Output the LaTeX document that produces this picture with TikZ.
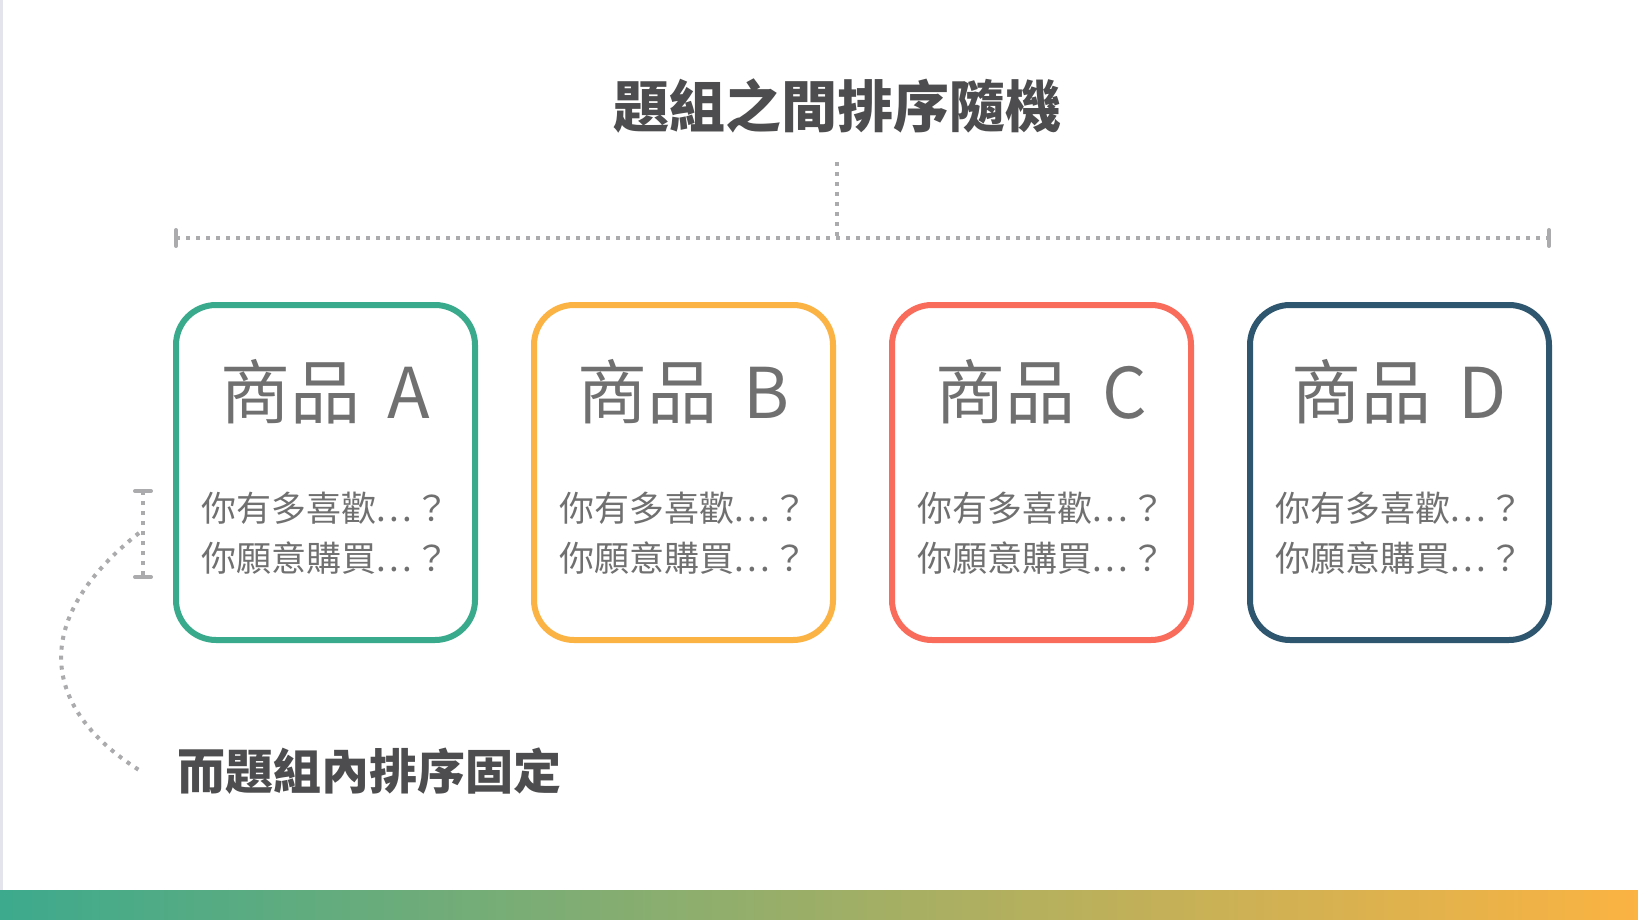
\documentclass[tikz,border=0pt]{standalone}
\usepackage{fontspec}
\newfontfamily\cjkfont{Noto Sans CJK TC}
\usetikzlibrary{positioning}

\definecolor{itemgreen}{HTML}{3AAA8C}
\definecolor{itemorange}{HTML}{FBB344}
\definecolor{itemred}{HTML}{F96B5A}
\definecolor{itemblue}{HTML}{2E566E}
\definecolor{headgray}{HTML}{4D4D4F}
\definecolor{textgray}{HTML}{707070}
\definecolor{dotgray}{HTML}{ABABAD}
\definecolor{edgegray}{HTML}{E4E4EC}
\definecolor{barleft}{HTML}{3DAA8D}
\definecolor{barright}{HTML}{FBB342}

\newcommand{\itemdots}{.\kern3pt.\kern3pt.\kern2pt}

\begin{document}
\begin{tikzpicture}[x=1pt, y=-1pt,
    itembox/.style={draw=#1, line width=6pt, rounded corners=40pt, minimum width=299pt, minimum height=335pt, inner sep=0pt, outer sep=0pt},
    itemname/.style={text=textgray, font=\cjkfont\fontsize{70}{84}\selectfont, anchor=base},
    question/.style={text=textgray, font=\cjkfont\fontsize{35}{50}\selectfont, anchor=base},
    heading/.style={text=headgray, font=\cjkfont\bfseries\fontsize{#1}{#1}\selectfont, inner sep=0pt},
    dotline/.style={draw=dotgray, line width=4pt, dash pattern=on 4pt off 6pt},
    capline/.style={draw=dotgray, line width=4pt, line cap=round},
    node distance=59pt,
  ]
  % page
  \useasboundingbox (0,0) rectangle (1638,920);
  \fill[white] (0,0) rectangle (1638,920);
  \fill[edgegray] (0,0) rectangle (2.5,890);
  \shade[left color=barleft, right color=barright] (0,890) rectangle (1638,920);

  % the four items
  \node[itembox=itemgreen]   (boxA) at (325.5,472.5) {};
  \node[itembox=itemorange]  (boxB) [right=of boxA] {};
  \node[itembox=itemred]     (boxC) [right=of boxB] {};
  \node[itembox=itemblue]    (boxD) [right=of boxC] {};

  \node[itemname] (nameA) at ([yshift=54.5pt]boxA.center) {商品\hspace{27pt}A};
  \node[itemname] (nameB) at ([yshift=54.5pt]boxB.center) {商品\hspace{27pt}B};
  \node[itemname] (nameC) at ([yshift=54.5pt]boxC.center) {商品\hspace{27pt}C};
  \node[itemname] (nameD) at ([yshift=54.5pt]boxD.center) {商品\hspace{27pt}D};

  \node[question] (likeA) at ([yshift=-48.5pt]boxA.center) {你有多喜歡\itemdots？};
  \node[question] (buyA)  at ([yshift=-98.5pt]boxA.center) {你願意購買\itemdots？};
  \node[question] (likeB) at ([yshift=-48.5pt]boxB.center) {你有多喜歡\itemdots？};
  \node[question] (buyB)  at ([yshift=-98.5pt]boxB.center) {你願意購買\itemdots？};
  \node[question] (likeC) at ([yshift=-48.5pt]boxC.center) {你有多喜歡\itemdots？};
  \node[question] (buyC)  at ([yshift=-98.5pt]boxC.center) {你願意購買\itemdots？};
  \node[question] (likeD) at ([yshift=-48.5pt]boxD.center) {你有多喜歡\itemdots？};
  \node[question] (buyD)  at ([yshift=-98.5pt]boxD.center) {你願意購買\itemdots？};

  % random order between groups
  \node[heading=56] (title) at (837,128) [anchor=base] {題組之間排序隨機};
  \coordinate (splitT) at (837,162);
  \coordinate (splitC) at (837,238);
  \coordinate (spanL) at (boxA.west |- splitC);
  \coordinate (spanR) at (boxD.east |- splitC);
  \draw[dotline] (splitT) -- (splitC);
  \draw[dotline] (spanL) -- (spanR);
  \draw[capline] ([yshift=8pt]spanL) -- ([yshift=-8pt]spanL);
  \draw[capline] ([yshift=8pt]spanR) -- ([yshift=-8pt]spanR);

  % fixed order inside a group
  \node[heading=48] (note) at (177,789) [anchor=base west] {而題組內排序固定};
  \coordinate (brTop) at (143,491);
  \coordinate (brBot) at (143,577);
  \coordinate (brMid) at (139,533);
  \coordinate (arcEnd) at ([xshift=-37pt]note.west);
  \draw[dotline] (brTop) -- (brBot);
  \draw[capline] ([xshift=-8pt]brTop) -- ([xshift=8pt]brTop);
  \draw[capline] ([xshift=-8pt]brBot) -- ([xshift=8pt]brBot);
  \draw[dotline] (brMid) .. controls (34,616) and (36,705) .. (arcEnd);
\end{tikzpicture}
\end{document}
